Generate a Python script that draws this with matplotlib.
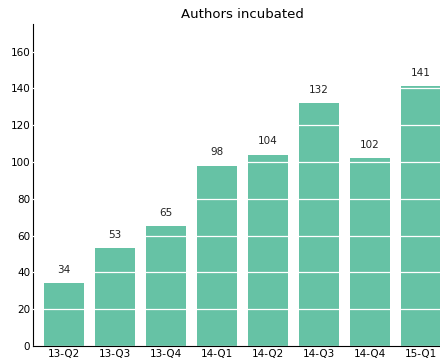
import matplotlib
matplotlib.use("Agg")
import matplotlib.pyplot as plt

quarters = ["13-Q2", "13-Q3", "13-Q4", "14-Q1", "14-Q2", "14-Q3", "14-Q4", "15-Q1"]
authors = [34, 53, 65, 98, 104, 132, 102, 141]

fig = plt.figure(figsize=(4.4, 3.62), dpi=100)
ax = fig.add_axes([0.075, 0.044, 0.925, 0.89])

x = range(len(quarters))
ax.bar(x, authors, width=0.78, color="#66c2a5", zorder=1)
for i, v in zip(x, authors):
    ax.annotate(str(v), (i, v), xytext=(0, 6), textcoords="offset points",
                ha="center", va="bottom", fontsize=7.5, color="#222222")

ax.set_xlim(-0.61, 7.37)
ax.set_ylim(0, 175)
ax.set_yticks(range(0, 161, 20))
ax.set_xticks(list(x))
ax.set_xticklabels(quarters)
ax.tick_params(length=0, labelsize=7.5, pad=2)
ax.yaxis.grid(True, color="white", linewidth=0.9, zorder=2)
ax.set_axisbelow(False)
for s in ["top", "right"]:
    ax.spines[s].set_visible(False)
ax.spines["left"].set_linewidth(0.8)
ax.spines["bottom"].set_linewidth(0.8)
ax.set_title("Authors incubated", fontsize=9.5, pad=4, x=0.515)

fig.savefig("out.png", dpi=100)
